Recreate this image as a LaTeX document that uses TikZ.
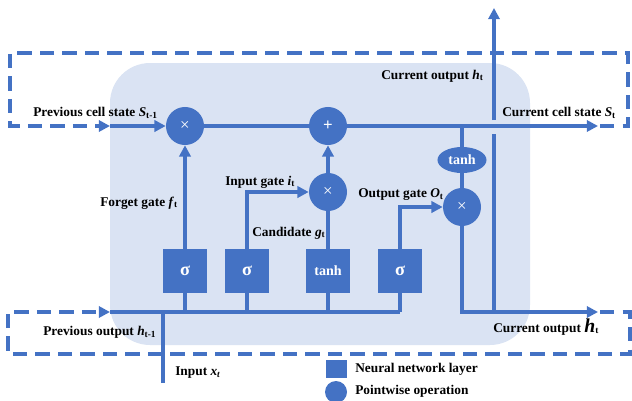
\documentclass[tikz,border=0pt]{standalone}
\usepackage{fontspec}
\setmainfont{Liberation Serif}
\usetikzlibrary{arrows.meta,shapes.geometric}
\definecolor{lstmblue}{RGB}{68,114,196}
\definecolor{cellbg}{RGB}{218,227,243}

\tikzset{
  layer/.style={fill=lstmblue, minimum width=1.075cm, minimum height=1.075cm, inner sep=0pt, text=white, font=\fontsize{10}{12}\selectfont\bfseries},
  op/.style={circle, fill=lstmblue, minimum size=0.95cm, inner sep=0pt, text=white, font=\fontsize{12}{12}\selectfont},
  tanhop/.style={ellipse, fill=lstmblue, minimum width=1.225cm, minimum height=0.65cm, inner sep=0pt, text=white, font=\fontsize{10}{12}\selectfont\bfseries},
  flow/.style={draw=lstmblue, line width=2.5pt},
  arr/.style={flow, -{Triangle[length=8pt,width=8pt]}},
  loopline/.style={draw=lstmblue, line width=3pt, dash pattern=on 10pt off 6pt},
  lbl/.style={font=\fontsize{9.5}{11}\selectfont\bfseries, anchor=west, inner sep=0pt},
}

\begin{document}
\begin{tikzpicture}[x=0.025cm,y=-0.025cm]
\useasboundingbox (0,0) rectangle (632,401);

% cell background
\fill[cellbg, rounded corners=1cm] (110,63) rectangle (530,345);

% free ends
\coordinate (cin) at (110,126);
\coordinate (cout) at (598,126);
\coordinate (cback) at (600,126);
\coordinate (hin) at (110,312);
\coordinate (hout) at (598,312);
\coordinate (hback) at (600,312);
\coordinate (xin) at (163,383);
\coordinate (xjoin) at (163,312);
\coordinate (hsplit) at (494,312);
\coordinate (gaplow) at (494,134);
\coordinate (gaphigh) at (494,120);
\coordinate (htop) at (494,8);

% layers
\node[layer] (fsig) at (185,271) {\fontsize{13}{13}\selectfont σ};
\node[layer] (isig) at (247,271) {\fontsize{13}{13}\selectfont σ};
\node[layer] (gtanh) at (328,271) {tanh};
\node[layer] (osig) at (400,271) {\fontsize{13}{13}\selectfont σ};

% pointwise ops
\node[op] (mulf) at (185,126) {×};
\node[op] (add) at (328,126) {\bfseries +};
\node[op] (muli) at (328,192) {×};
\node[op] (mulo) at (462,207) {×};
\node[tanhop] (ctanh) at (462,160) {tanh};

% cell state
\draw[arr] (cin) -- (mulf);
\draw[flow] (mulf) -- (add);
\draw[arr] (add) -- (cout);
\draw[loopline, -{Triangle[length=8pt,width=8pt]}] (cback) -- (628,126) -- (628,53) -- (10,53) -- (10,126) -- (cin);

% gates
\draw[arr] (fsig) -- (mulf);
\draw[arr] (isig.north) |- (muli);
\draw[flow] (gtanh) -- (muli);
\draw[arr] (muli) -- (add);
\draw[arr] (osig.north) |- (mulo);
\draw[flow] (ctanh) -- (ctanh |- add);
\draw[flow] (ctanh) -- (mulo);

% hidden state
\draw[arr] (mulo) |- (hout);
\draw[flow] (hsplit) -- (gaplow);
\draw[arr] (gaphigh) -- (htop);
\draw[loopline, -{Triangle[length=8pt,width=8pt]}] (hback) -- (630,312) -- (630,354) -- (8,354) -- (8,312) -- (hin);
\draw[flow] (hin) -- (osig |- hin);
\draw[flow] (xin) -- (xjoin);
\foreach \g in {fsig,isig,gtanh,osig}
  \draw[flow] (\g) -- (\g |- hin);

% labels
\node[lbl] at (33,113) {Previous cell state \textit{S}\textsubscript{t-1}};
\node[lbl] at (381,76) {Current output \textit{h}\textsubscript{t}};
\node[lbl] at (502,113) {Current cell state \textit{S}\textsubscript{t}};
\node[lbl] at (100,203) {Forget gate \textit{f}\textsubscript{t}};
\node[lbl] at (225,182) {Input gate \textit{i}\textsubscript{t}};
\node[lbl] at (252,233) {Candidate \textit{g}\textsubscript{t}};
\node[lbl] at (358,195) {Output gate \textit{O}\textsubscript{t}};
\node[lbl] at (43,332) {Previous output \textit{h}\textsubscript{t-1}};
\node[lbl] at (493,327) {Current output {\fontsize{14}{14}\selectfont\textit{h}}\textsubscript{t}};
\node[lbl] at (175,373) {Input \textit{x\textsubscript{t}}};

% legend
\node[fill=lstmblue, minimum width=0.525cm, minimum height=0.46cm, inner sep=0pt] (keylayer) at (336,369) {};
\node[circle, fill=lstmblue, minimum size=0.55cm, inner sep=0pt] (keyop) at (336,392) {};
\node[lbl] at (355,369) {Neural network layer};
\node[lbl] at (355,391) {Pointwise operation};
\end{tikzpicture}
\end{document}
